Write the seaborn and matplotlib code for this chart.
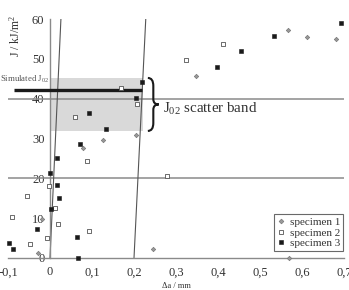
import numpy as np
import pandas as pd
import matplotlib
matplotlib.use("Agg")
import matplotlib.pyplot as plt
from matplotlib.path import Path
from matplotlib.patches import PathPatch, Rectangle
from matplotlib.lines import Line2D
import seaborn as sns

# ---------------- data ----------------
s1_da = [-0.020, -0.028, 0.078, 0.127, 0.205, 0.246, 0.348, 0.567, 0.570, 0.611, 0.680]
s1_J = [9.8, 1.2, 27.7, 29.5, 31.0, 2.2, 45.8, 57.2, 0.1, 55.5, 54.9]

s2_da = [-0.002, -0.054, 0.012, -0.090, 0.019, 0.092, -0.008, -0.048, 0.207, 0.060,
         0.087, 0.278, 0.323, 0.411, 0.169]
s2_J = [18.2, 15.6, 12.6, 10.4, 8.5, 6.8, 4.9, 3.5, 38.6, 35.3,
        24.4, 20.7, 49.8, 53.8, 42.7]

s3_da = [0.000, 0.017, 0.021, 0.002, -0.031, 0.065, -0.098, -0.087, 0.067, 0.204,
         0.094, 0.134, 0.072, 0.017, 0.218, 0.397, 0.454, 0.533, 0.692]
s3_J = [21.3, 18.3, 15.1, 12.2, 7.2, 5.3, 3.7, 2.2, 0.1, 40.2,
        36.5, 32.3, 28.7, 25.0, 44.3, 47.9, 51.9, 55.8, 58.9]

specimens = ["specimen 1", "specimen 2", "specimen 3"]

# blunting lines (da at J=0 and J=60)
blunt1_da = [0.0, 0.026]
blunt2_da = [0.200, 0.228]
blunt_J = [0, 60]

# scatter band
band_da = [0.0, 0.221]
band_J = [31.9, 45.2]

# simulated J02
sim_J = 42.2
sim_da = [-0.086, 0.219]

ref_lines_J = [20, 40]

x_ticks = [-0.1, 0.0, 0.1, 0.2, 0.3, 0.4, 0.5, 0.6, 0.7]
x_ticklabels = ["-0,1", "0", "0,1", "0,2", "0,3", "0,4", "0,5", "0,6", "0,7"]
y_ticks = [0, 10, 20, 30, 40, 50, 60]

# ---------------- style ----------------
sns.set_theme(style="white")
plt.rcParams["font.family"] = ["Liberation Serif", "DejaVu Serif"]
plt.rcParams["mathtext.fontset"] = "custom"
plt.rcParams["mathtext.rm"] = "Liberation Serif"
plt.rcParams["mathtext.it"] = "Liberation Serif"
plt.rcParams["mathtext.default"] = "regular"

W, H = 349, 290
fig = plt.figure(figsize=(W / 100, H / 100), dpi=100)
ax = fig.add_axes([8 / W, 1 - 258 / H, (344 - 8) / W, (258 - 19) / H])
ax.set_xlim(-0.1, 0.7)
ax.set_ylim(0, 60)

tc = "#333333"
grid_c = "#8a8a8a"

# band
ax.add_patch(Rectangle((band_da[0], band_J[0]), band_da[1] - band_da[0],
                       band_J[1] - band_J[0], facecolor="#d9d9d9",
                       edgecolor="none", zorder=0))

# reference horizontal lines
for j in ref_lines_J:
    ax.axhline(j, color=grid_c, lw=1.1, zorder=1)

# blunting lines
ax.plot(blunt1_da, blunt_J, color="#555555", lw=0.8, zorder=2)
ax.plot(blunt2_da, blunt_J, color="#555555", lw=0.8, zorder=2)

# simulated line
ax.hlines(sim_J, sim_da[0], sim_da[1], color="#1a1a1a", lw=2.4, zorder=3)
ax.text(-0.119, 44.8, "Simulated J$_{02}$", fontsize=6.3, color="#555555",
        va="center", ha="left", clip_on=False)

# scatter via seaborn
df = pd.DataFrame({
    "da": s1_da + s2_da + s3_da,
    "J": s1_J + s2_J + s3_J,
    "specimen": [specimens[0]] * len(s1_da) + [specimens[1]] * len(s2_da)
    + [specimens[2]] * len(s3_da),
})
styles = {
    specimens[0]: dict(marker="D", s=5, facecolor="#9a9a9a", edgecolor="#777777", lw=0.5),
    specimens[1]: dict(marker="s", s=6, facecolor="white", edgecolor="#555555", lw=0.6),
    specimens[2]: dict(marker="s", s=6, facecolor="#1a1a1a", edgecolor="#1a1a1a", lw=0.4),
}
for sp in specimens:
    st = styles[sp]
    sns.scatterplot(data=df[df["specimen"] == sp], x="da", y="J", ax=ax,
                    marker=st["marker"], s=st["s"], color=st["facecolor"],
                    edgecolor=st["edgecolor"], linewidth=st["lw"], zorder=5,
                    legend=False, clip_on=False)

# brace
bx0, bw = 0.233, 0.026
ylo, yhi = band_J
ym = (ylo + yhi) / 2
h = yhi - ylo
verts = [
    (bx0, yhi), (bx0 + bw / 2, yhi), (bx0 + bw / 2, yhi - 0.15 * h),
    (bx0 + bw / 2, ym + 0.1 * h),
    (bx0 + bw / 2, ym), (bx0 + bw, ym),
    (bx0 + bw / 2, ym), (bx0 + bw / 2, ym - 0.1 * h),
    (bx0 + bw / 2, ylo + 0.15 * h),
    (bx0 + bw / 2, ylo), (bx0, ylo),
]
codes = [Path.MOVETO, Path.CURVE3, Path.CURVE3, Path.LINETO,
         Path.CURVE3, Path.CURVE3, Path.CURVE3, Path.CURVE3,
         Path.LINETO, Path.CURVE3, Path.CURVE3]
ax.add_patch(PathPatch(Path(verts, codes), facecolor="none",
                       edgecolor="#1a1a1a", lw=1.5, zorder=4))
ax.text(0.270, 37.4, "J$_{02}$ scatter band", fontsize=10.8, color=tc,
        va="center", ha="left")

# axes & spines
for s in ["top", "right"]:
    ax.spines[s].set_visible(False)
ax.spines["left"].set_position(("data", 0))
ax.spines["left"].set_color(grid_c)
ax.spines["bottom"].set_color(grid_c)
ax.spines["left"].set_linewidth(1.0)
ax.spines["bottom"].set_linewidth(1.0)

ax.set_xticks(x_ticks)
ax.set_xticklabels(x_ticklabels)
ax.set_yticks(y_ticks)
ax.tick_params(axis="both", which="both", direction="out", length=3, width=0.7,
               color=grid_c, labelsize=9, labelcolor=tc)
ax.tick_params(axis="x", pad=3)
ax.tick_params(axis="y", pad=1)
ax.set_xlabel("")
ax.set_ylabel("")

fig.text(15 / W, 1 - 36 / H, "J / kJ/m$^{2}$", rotation=90, fontsize=8.5,
         color=tc, ha="center", va="center")
fig.text(176 / W, 1 - 286 / H, "Δa / mm", fontsize=6, color=tc,
         ha="center", va="center")

# legend
handles = [
    Line2D([], [], ls="none", marker="D", ms=2.4, mfc="#9a9a9a", mec="#777777", mew=0.5),
    Line2D([], [], ls="none", marker="s", ms=2.6, mfc="white", mec="#555555", mew=0.6),
    Line2D([], [], ls="none", marker="s", ms=2.6, mfc="#1a1a1a", mec="#1a1a1a", mew=0.4),
]
leg = ax.legend(handles, specimens, loc="lower right",
                bbox_to_anchor=(343 / W, 1 - 251 / H), bbox_transform=fig.transFigure,
                fontsize=8, frameon=True, fancybox=False, shadow=False,
                handlelength=0.7, handletextpad=0.45, borderpad=0.25,
                labelspacing=0.08, borderaxespad=0)
leg.get_frame().set_edgecolor("#444444")
leg.get_frame().set_linewidth(0.8)
for t in leg.get_texts():
    t.set_color(tc)

fig.savefig("out.png", dpi=100)
